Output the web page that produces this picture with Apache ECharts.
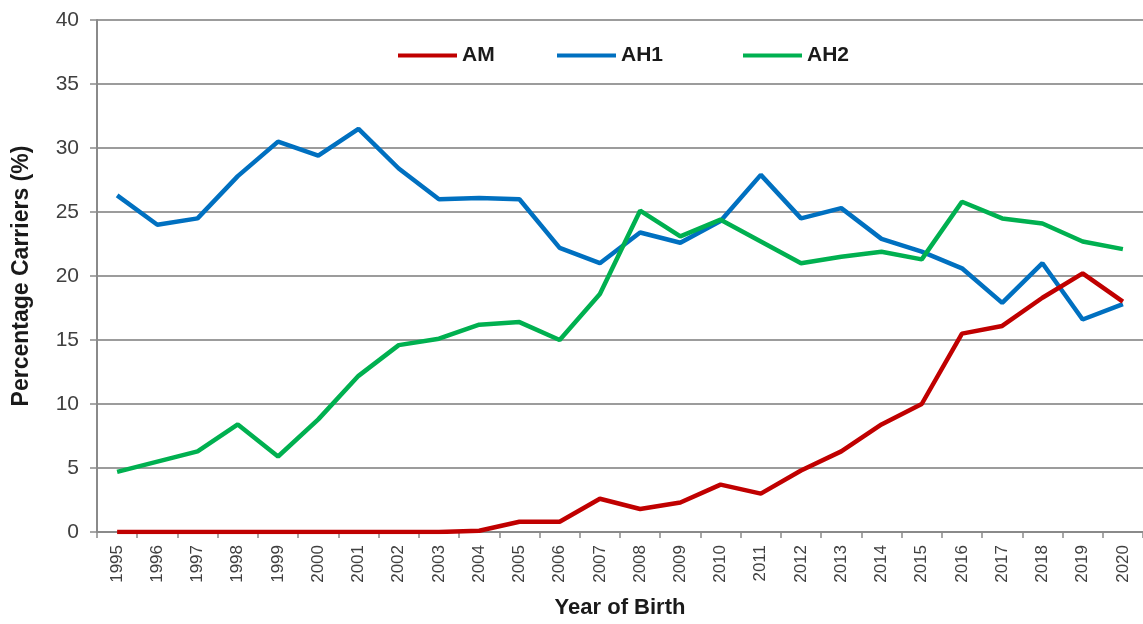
<!DOCTYPE html>
<html>
<head>
<meta charset="utf-8">
<script src="https://cdn.jsdelivr.net/npm/echarts@6/dist/echarts.min.js"></script>
<style>
html,body{margin:0;padding:0;background:#fff;}
#chart{width:1143px;height:624px;}
</style>
</head>
<body>
<div id="chart"></div>
<script>
const years = ['1995','1996','1997','1998','1999','2000','2001','2002','2003','2004','2005','2006','2007','2008','2009','2010','2011','2012','2013','2014','2015','2016','2017','2018','2019','2020'];
const amValues  = [0, 0, 0, 0, 0, 0, 0, 0, 0, 0.1, 0.8, 0.8, 2.6, 1.8, 2.3, 3.7, 3.0, 4.8, 6.3, 8.4, 10.0, 15.5, 16.1, 18.3, 20.2, 18.0];
const ah1Values = [26.3, 24.0, 24.5, 27.8, 30.5, 29.4, 31.5, 28.4, 26.0, 26.1, 26.0, 22.2, 21.0, 23.4, 22.6, 24.3, 27.9, 24.5, 25.3, 22.9, 21.9, 20.6, 17.9, 21.0, 16.6, 17.8];
const ah2Values = [4.7, 5.5, 6.3, 8.4, 5.9, 8.8, 12.2, 14.6, 15.1, 16.2, 16.4, 15.0, 18.6, 25.1, 23.1, 24.4, 22.7, 21.0, 21.5, 21.9, 21.3, 25.8, 24.5, 24.1, 22.7, 22.1];
const yTicks = [0, 5, 10, 15, 20, 25, 30, 35, 40];

const font = '"Liberation Sans", Arial, sans-serif';
const chart = echarts.init(document.getElementById('chart'), null, {renderer: 'canvas'});
const legendText = {fontFamily: font, fontSize: 21, fontWeight: 'bold', color: '#1a1a1a'};
const legendBase = {icon: 'rect', itemWidth: 59, itemHeight: 4, top: 40, textStyle: legendText, selectedMode: false};

chart.setOption({
  animation: false,
  backgroundColor: '#ffffff',
  grid: {left: 97, top: 20, bottom: 91, right: -5, containLabel: false},
  legend: [
    Object.assign({data: ['AM'], left: 393}, legendBase),
    Object.assign({data: ['AH1'], left: 552}, legendBase),
    Object.assign({data: ['AH2'], left: 738}, legendBase)
  ],
  xAxis: {
    type: 'category',
    data: years,
    boundaryGap: true,
    name: 'Year of Birth',
    nameLocation: 'middle',
    nameGap: 65,
    nameTextStyle: {fontFamily: font, fontSize: 22, fontWeight: 'bold', color: '#1a1a1a'},
    axisLine: {show: true, lineStyle: {color: '#8a8a8a', width: 2}},
    axisTick: {show: true, length: 6, lineStyle: {color: '#8a8a8a', width: 1.5}},
    axisLabel: {rotate: 90, margin: 13, fontFamily: font, fontSize: 17, color: '#404040', interval: 0}
  },
  yAxis: {
    type: 'value',
    min: yTicks[0],
    max: yTicks[yTicks.length - 1],
    interval: 5,
    name: 'Percentage Carriers (%)',
    nameLocation: 'middle',
    nameGap: 64,
    nameRotate: 90,
    nameTextStyle: {fontFamily: font, fontSize: 23, fontWeight: 'bold', color: '#1a1a1a'},
    axisLine: {show: true, lineStyle: {color: '#8a8a8a', width: 2}},
    axisTick: {show: true, length: 7, lineStyle: {color: '#8a8a8a', width: 1.5}},
    axisLabel: {margin: 18, fontFamily: font, fontSize: 21, color: '#404040'},
    splitLine: {show: true, lineStyle: {color: '#9c9c9c', width: 2}}
  },
  series: [
    {name: 'AM', type: 'line', data: amValues, symbol: 'none', color: '#C00000', lineStyle: {width: 4.5, color: '#C00000'}, z: 3},
    {name: 'AH1', type: 'line', data: ah1Values, symbol: 'none', color: '#0070C0', lineStyle: {width: 4.5, color: '#0070C0'}, z: 2},
    {name: 'AH2', type: 'line', data: ah2Values, symbol: 'none', color: '#00B050', lineStyle: {width: 4.5, color: '#00B050'}, z: 2}
  ]
});
</script>
</body>
</html>
